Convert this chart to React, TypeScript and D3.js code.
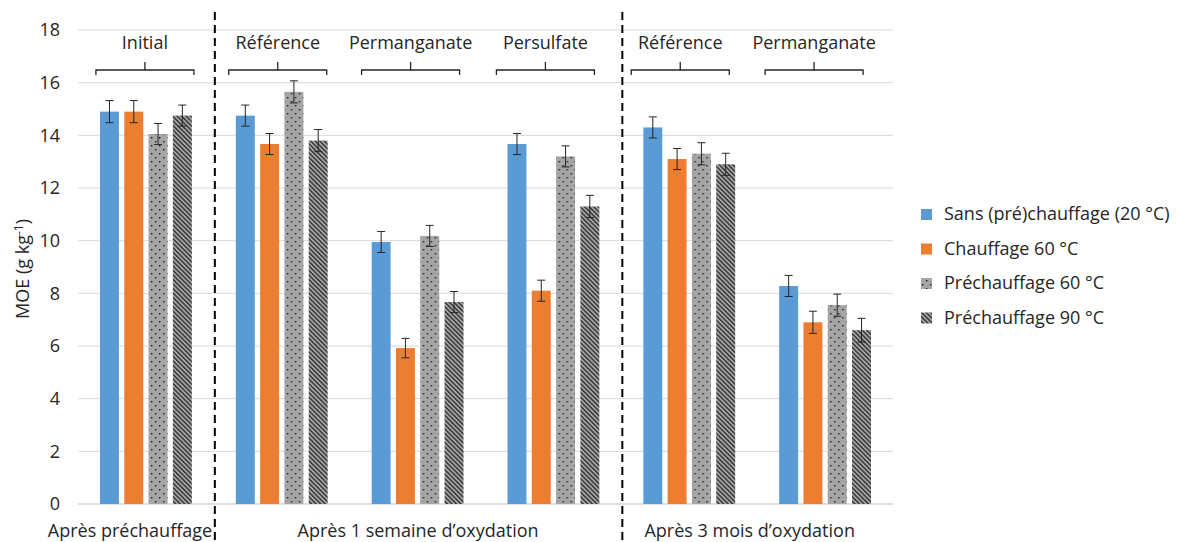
import React from "react";
import * as d3 from "d3";

const categories = ["Initial", "Référence", "Permanganate", "Persulfate", "Référence", "Permanganate"];
const seriesNames = ["Sans (pré)chauffage (20 °C)", "Chauffage 60 °C", "Préchauffage 60 °C", "Préchauffage 90 °C"];
const sansValues = [14.9, 14.75, 9.95, 13.67, 14.3, 8.28];
const chauffageValues = [14.9, 13.67, 5.92, 8.1, 13.1, 6.9];
const prech60Values = [14.05, 15.65, 10.18, 13.2, 13.3, 7.55];
const prech90Values = [14.75, 13.8, 7.67, 11.3, 12.9, 6.6];
const sansErr = [0.42, 0.4, 0.4, 0.4, 0.4, 0.4];
const chauffageErr = [0.42, 0.4, 0.37, 0.4, 0.4, 0.42];
const prech60Err = [0.4, 0.42, 0.4, 0.4, 0.42, 0.42];
const prech90Err = [0.4, 0.42, 0.4, 0.42, 0.42, 0.45];
const yTicks = [0, 2, 4, 6, 8, 10, 12, 14, 16, 18];
const periods = [
  { label: "Après préchauffage", from: 0, to: 0 },
  { label: "Après 1 semaine d\u2019oxydation", from: 1, to: 3 },
  { label: "Après 3 mois d\u2019oxydation", from: 4, to: 5 },
];
const braceShift = [-1, -4, -7, -8, -9, -11];

const values = [sansValues, chauffageValues, prech60Values, prech90Values];
const errs = [sansErr, chauffageErr, prech60Err, prech90Err];
const fills = ["#5b9bd5", "#ed7d31", "url(#dots)", "url(#hatch)"];

const W = 1178, H = 542;
const M = { left: 78, right: 285, top: 30, bottom: 38 };
const FONT = "'Open Sans', 'Noto Sans', sans-serif";

export default function App() {
  const x0 = d3.scaleBand<number>().domain(d3.range(categories.length)).range([M.left, W - M.right]).paddingInner(0).paddingOuter(0);
  const x1 = d3.scaleBand<number>().domain(d3.range(4)).range([22, x0.bandwidth() - 22]).paddingInner(0.22);
  const y = d3.scaleLinear().domain([0, 18]).range([H - M.bottom, M.top]);
  const bw = x1.bandwidth();

  return (
    <svg width={W} height={H} style={{ position: "absolute", left: 0, top: 0, background: "#fff" }} fontFamily={FONT}>
      <defs>
        <pattern id="dots" width="8" height="8" patternUnits="userSpaceOnUse">
          <rect width="8" height="8" fill="#a5a5a5" />
          <rect x="1" y="1" width="1.4" height="1.4" fill="#1a1a1a" />
          <rect x="5" y="5" width="1.4" height="1.4" fill="#1a1a1a" />
        </pattern>
        <pattern id="hatch" width="3.2" height="3.2" patternUnits="userSpaceOnUse" patternTransform="rotate(-45)">
          <rect width="3.2" height="3.2" fill="#a5a5a5" />
          <rect x="0" y="0" width="1.5" height="3.2" fill="#3a3a3a" />
        </pattern>
      </defs>
      {yTicks.map((t) => (
        <g key={t}>
          <line x1={M.left} x2={W - M.right} y1={y(t)} y2={y(t)} stroke={t === 0 ? "#bfbfbf" : "#d9d9d9"} strokeWidth={1} />
          <text x={60} y={y(t)} dy="0.35em" textAnchor="end" fontSize={18} fill="#262626">{t}</text>
        </g>
      ))}
      <text transform={`translate(29,${(y(0) + y(18)) / 2 + 2}) rotate(-90)`} textAnchor="middle" fontSize={18} fill="#262626">
        MOE (g kg<tspan dy={-6} fontSize={12}>-1</tspan><tspan dy={6}>)</tspan>
      </text>
      {categories.map((c, i) => (
        <g key={i} transform={`translate(${x0(i)},0)`}>
          {values.map((vals, s) => {
            const bx = x1(s)!;
            const v = vals[i];
            const e = errs[s][i];
            const cx = bx + bw / 2;
            return (
              <g key={s}>
                <rect x={bx} y={y(v)} width={bw} height={y(0) - y(v)} fill={fills[s]} />
                <line x1={cx} x2={cx} y1={y(v + e)} y2={y(v - e)} stroke="#262626" strokeWidth={1} />
                <line x1={cx - 4} x2={cx + 4} y1={y(v + e)} y2={y(v + e)} stroke="#262626" strokeWidth={1} />
                <line x1={cx - 4} x2={cx + 4} y1={y(v - e)} y2={y(v - e)} stroke="#262626" strokeWidth={1} />
              </g>
            );
          })}
          {(() => {
            const cx = x0.bandwidth() / 2 + braceShift[i];
            const hw = 49;
            return (
              <g>
                <text x={cx} y={43} dy="0.35em" textAnchor="middle" fontSize={18} fill="#262626">{c}</text>
                <path d={`M${cx - hw},75 V70 H${cx + hw} V75 M${cx},70 V62`} fill="none" stroke="#262626" strokeWidth={1.3} />
              </g>
            );
          })()}
        </g>
      ))}
      {[1, 4].map((b) => (
        <line key={b} x1={x0(b)! + 1} x2={x0(b)! + 1} y1={12} y2={H} stroke="#000" strokeWidth={2} strokeDasharray="8,5" />
      ))}
      {periods.map((p, i) => {
        const left = x0(p.from)! + 1;
        const right = x0(p.to)! + x0.bandwidth();
        return (
          <text key={i} x={i === 0 ? 130 : (left + right) / 2 + (i === 2 ? -8 : 0)} y={537} textAnchor="middle" fontSize={18} fill="#262626">{p.label}</text>
        );
      })}
      {seriesNames.map((n, s) => (
        <g key={s} transform={`translate(921,${214 + s * 34.5})`}>
          <rect x={0} y={-5} width={11} height={11} fill={fills[s]} />
          <text x={23} y={0} dy="0.35em" fontSize={18} fill="#262626">{n}</text>
        </g>
      ))}
    </svg>
  );
}
